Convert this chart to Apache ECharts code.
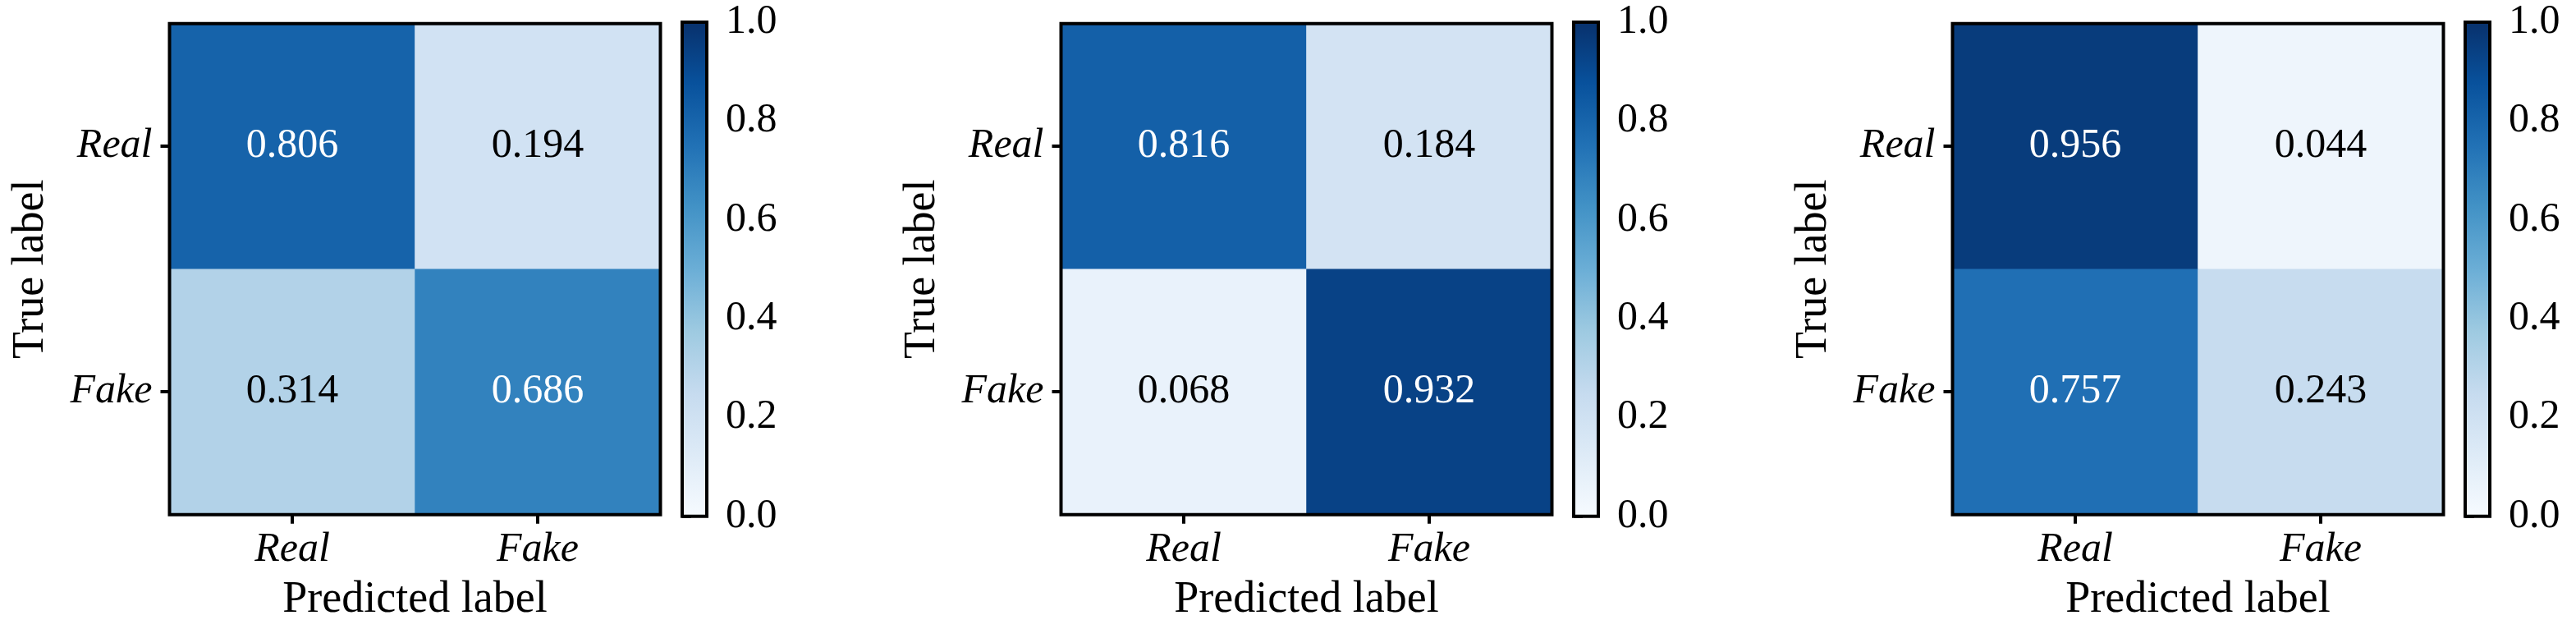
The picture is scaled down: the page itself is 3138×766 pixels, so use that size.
<!DOCTYPE html>
<html>
<head>
<meta charset="utf-8">
<script src="https://cdn.jsdelivr.net/npm/echarts@6/dist/echarts.min.js"></script>
<style>
html,body{margin:0;padding:0;background:#fff;}
#c{width:3138px;height:766px;}
</style>
</head>
<body>
<div id="c"></div>
<script>
// ---- data ----
const classes = ['Real', 'Fake'];
const cm1 = [[0.806, 0.194], [0.314, 0.686]];
const cm2 = [[0.816, 0.184], [0.068, 0.932]];
const cm3 = [[0.956, 0.044], [0.757, 0.243]];
const matrices = [cm1, cm2, cm3];
const colorbarMin = 0;
const colorbarMax = 1;
const colorbarStep = 0.2;
const blues = ['#f7fbff', '#deebf7', '#c6dbef', '#9ecae1', '#6baed6', '#4292c6', '#2171b5', '#08519c', '#08306b'];
const xName = 'Predicted label';
const yName = 'True label';

// ---- layout ----
const FONT = '"Liberation Serif", "DejaVu Serif", serif';
const panels = [
  { left: 206.5, cbLeft: 831 },
  { left: 1292.5, cbLeft: 1917 },
  { left: 2378.5, cbLeft: 3003 }
];
const plotTop = 28.7, plotSize = 598;
const cbTop = 27, cbHeight = 601.7, cbWidth = 30;

const chart = echarts.init(document.getElementById('c'), null, { renderer: 'canvas' });

const grids = [], xAxes = [], yAxes = [], series = [], visualMaps = [];

const gradStops = blues.map((c, i) => ({ offset: i / (blues.length - 1), color: c }));

panels.forEach((p, i) => {
  const threshold = 0.5;
  grids.push({
    left: p.left, top: plotTop, width: plotSize, height: plotSize,
    show: true, backgroundColor: 'transparent', borderColor: '#000', borderWidth: 4, z: 10
  });
  grids.push({
    left: p.cbLeft, top: cbTop, width: cbWidth, height: cbHeight,
    show: true,
    backgroundColor: new echarts.graphic.LinearGradient(0, 1, 0, 0, gradStops),
    borderColor: '#000', borderWidth: 4, z: 10
  });
  const gH = i * 2, gC = i * 2 + 1;
  xAxes.push({
    type: 'category', gridIndex: gH, data: classes, position: 'bottom',
    axisLine: { show: false },
    axisTick: { show: true, alignWithLabel: true, length: 11, lineStyle: { width: 4, color: '#000' } },
    axisLabel: { fontFamily: FONT, fontStyle: 'italic', fontSize: 50, color: '#000', margin: 18 },
    splitLine: { show: false },
    name: xName, nameLocation: 'middle', nameGap: 77,
    nameTextStyle: { fontFamily: FONT, fontSize: 54, color: '#000' }
  });
  yAxes.push({
    type: 'category', gridIndex: gH, data: classes, inverse: true, position: 'left',
    axisLine: { show: false },
    axisTick: { show: true, alignWithLabel: true, length: 11, lineStyle: { width: 4, color: '#000' } },
    axisLabel: { fontFamily: FONT, fontStyle: 'italic', fontSize: 50, color: '#000', margin: 21 },
    splitLine: { show: false },
    name: yName, nameLocation: 'middle', nameGap: 142, nameRotate: 90,
    nameTextStyle: { fontFamily: FONT, fontSize: 54, color: '#000' }
  });
  xAxes.push({
    type: 'value', gridIndex: gC, show: false, min: 0, max: 1
  });
  yAxes.push({
    type: 'value', gridIndex: gC, position: 'right',
    min: colorbarMin, max: colorbarMax, interval: colorbarStep,
    axisLine: { show: false },
    axisTick: { show: true, inside: false, length: 11, lineStyle: { width: 4, color: '#000' } },
    axisLabel: { fontFamily: FONT, fontSize: 50, color: '#000', margin: 23,
      formatter: v => v.toFixed(1) },
    splitLine: { show: false }
  });
  const m = matrices[i];
  const data = [];
  m.forEach((row, r) => row.forEach((v, c) => {
    data.push({
      value: [c, r, v],
      label: { color: v >= threshold ? '#fff' : '#000' }
    });
  }));
  series.push({
    type: 'heatmap', xAxisIndex: i * 2, yAxisIndex: i * 2, z: 2,
    data: data,
    itemStyle: { borderWidth: 0 },
    label: { show: true, fontFamily: FONT, fontSize: 50,
      formatter: prm => prm.value[2].toFixed(3) },
    emphasis: { disabled: true }
  });
  visualMaps.push({
    show: false, seriesIndex: i, min: colorbarMin, max: colorbarMax, dimension: 2,
    inRange: { color: blues }
  });
});

chart.setOption({
  animation: false,
  backgroundColor: '#fff',
  grid: grids,
  xAxis: xAxes,
  yAxis: yAxes,
  visualMap: visualMaps,
  series: series
});
</script>
</body>
</html>
